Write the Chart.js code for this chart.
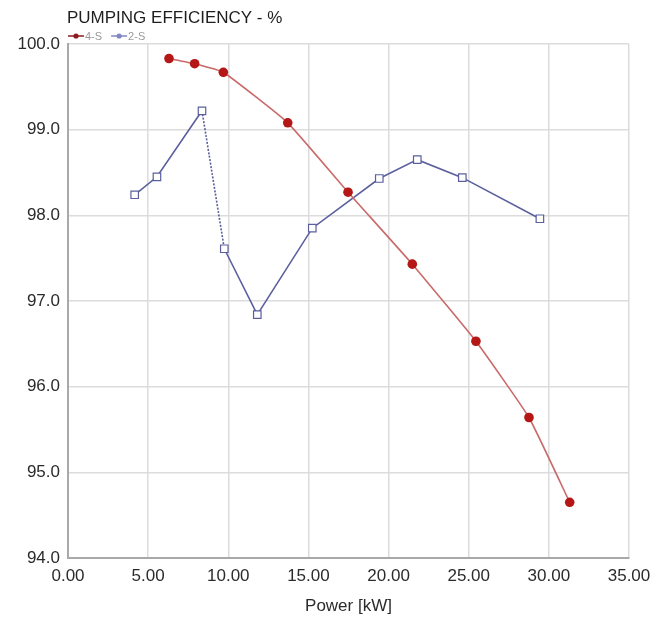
<!DOCTYPE html>
<html lang="en">
<head>
    <meta charset="UTF-8">
    <title>Pumping Efficiency</title>
    <script src="https://cdn.jsdelivr.net/npm/chart.js"></script>
    <style>
        body { margin: 0; background: #fff; }
        #wrap { width: 666px; height: 621px; position: relative; }
    </style>
</head>
<body>
    <div id="wrap">
        <canvas id="efficiencyChart"></canvas>
    </div>

    <script>
        // Power [kW] vs pumping efficiency [%]
        const powerFourStroke = [6.30, 7.90, 9.69, 13.71, 17.47, 21.48, 25.45, 28.76, 31.30];
        const effFourStroke   = [99.83, 99.77, 99.67, 99.08, 98.27, 97.43, 96.53, 95.64, 94.65];

        const powerTwoStroke = [4.16, 5.55, 8.36, 9.75, 11.81, 15.24, 19.42, 21.79, 24.60, 29.44];
        const effTwoStroke   = [98.24, 98.45, 99.22, 97.61, 96.84, 97.85, 98.43, 98.65, 98.44, 97.96];

        const seriesLabels = ['4-S', '2-S'];
        const chartTitle = 'PUMPING EFFICIENCY - %';
        const xAxisTitle = 'Power [kW]';

        const xTicks = { min: 0, max: 35, step: 5 };
        const yTicks = { min: 94, max: 100, step: 1 };

        const FONT = '"Liberation Sans", Arial, sans-serif';
        const RED_LINE = '#c96a6a';
        const RED_DOT = '#b51616';
        const BLUE = '#5b5f9e';

        const toPoints = (xs, ys) => xs.map((x, i) => ({ x: x, y: ys[i] }));

        // title and small legend drawn above the plot area
        const headerPlugin = {
            id: 'header',
            afterDraw(chart) {
                const ctx = chart.ctx;
                ctx.save();
                ctx.textBaseline = 'middle';
                ctx.fillStyle = '#1e1e1e';
                ctx.font = '17px ' + FONT;
                ctx.fillText(chartTitle, 67, 18);

                ctx.font = '11px ' + FONT;
                let x = 68;
                const y = 36;
                chart.data.datasets.forEach(ds => {
                    ctx.strokeStyle = ds.legendColor;
                    ctx.lineWidth = 1.5;
                    ctx.beginPath();
                    ctx.moveTo(x, y);
                    ctx.lineTo(x + 16, y);
                    ctx.stroke();
                    ctx.fillStyle = ds.legendColor;
                    ctx.beginPath();
                    ctx.arc(x + 8, y, 2.6, 0, Math.PI * 2);
                    ctx.fill();
                    ctx.fillStyle = '#9a9a9a';
                    ctx.fillText(ds.label, x + 17, y + 1);
                    x += 17 + ctx.measureText(ds.label).width + 9;
                });
                ctx.restore();
            }
        };

        new Chart(document.getElementById('efficiencyChart'), {
            type: 'line',
            data: {
                datasets: [{
                    label: seriesLabels[0],
                    data: toPoints(powerFourStroke, effFourStroke),
                    borderColor: RED_LINE,
                    borderWidth: 1.6,
                    pointStyle: 'circle',
                    pointRadius: 4.8,
                    pointBackgroundColor: RED_DOT,
                    pointBorderColor: RED_DOT,
                    pointBorderWidth: 0,
                    tension: 0.12,
                    legendColor: '#8e1c1c'
                }, {
                    label: seriesLabels[1],
                    data: toPoints(powerTwoStroke, effTwoStroke),
                    borderColor: BLUE,
                    borderWidth: 1.6,
                    pointStyle: 'rect',
                    pointRadius: 5.3,
                    pointBackgroundColor: '#ffffff',
                    pointBorderColor: BLUE,
                    pointBorderWidth: 1.2,
                    tension: 0,
                    // the drop after the peak is drawn dotted
                    segment: {
                        borderDash: ctx => ctx.p0DataIndex === 2 ? [2, 1.5] : undefined
                    },
                    legendColor: '#8087c0'
                }]
            },
            options: {
                responsive: true,
                maintainAspectRatio: false,
                animation: false,
                layout: { padding: { top: 44, right: 37, bottom: 0, left: 0 } },
                plugins: {
                    legend: { display: false },
                    title: { display: false },
                    tooltip: { enabled: false }
                },
                scales: {
                    x: {
                        type: 'linear',
                        min: xTicks.min,
                        max: xTicks.max,
                        afterFit(scale) { scale.height = 63; },
                        ticks: {
                            stepSize: xTicks.step,
                            padding: 8,
                            color: '#2b2b2b',
                            font: { family: FONT, size: 17 },
                            maxRotation: 0,
                            callback: v => Number(v).toFixed(2)
                        },
                        grid: { color: '#dcdcdc', lineWidth: 1.5, drawTicks: false },
                        border: { color: '#a9a9a9', width: 2 },
                        title: {
                            display: true,
                            text: xAxisTitle,
                            color: '#2b2b2b',
                            font: { family: FONT, size: 17 },
                            padding: { top: 0, bottom: 4 }
                        }
                    },
                    y: {
                        min: yTicks.min,
                        max: yTicks.max,
                        afterFit(scale) { scale.width = 68; },
                        ticks: {
                            stepSize: yTicks.step,
                            padding: 8,
                            color: '#2b2b2b',
                            font: { family: FONT, size: 17 },
                            callback: v => Number(v).toFixed(1)
                        },
                        grid: { color: '#dcdcdc', lineWidth: 1.5, drawTicks: false },
                        border: { color: '#a9a9a9', width: 2 }
                    }
                }
            },
            plugins: [headerPlugin]
        });
    </script>
</body>
</html>
